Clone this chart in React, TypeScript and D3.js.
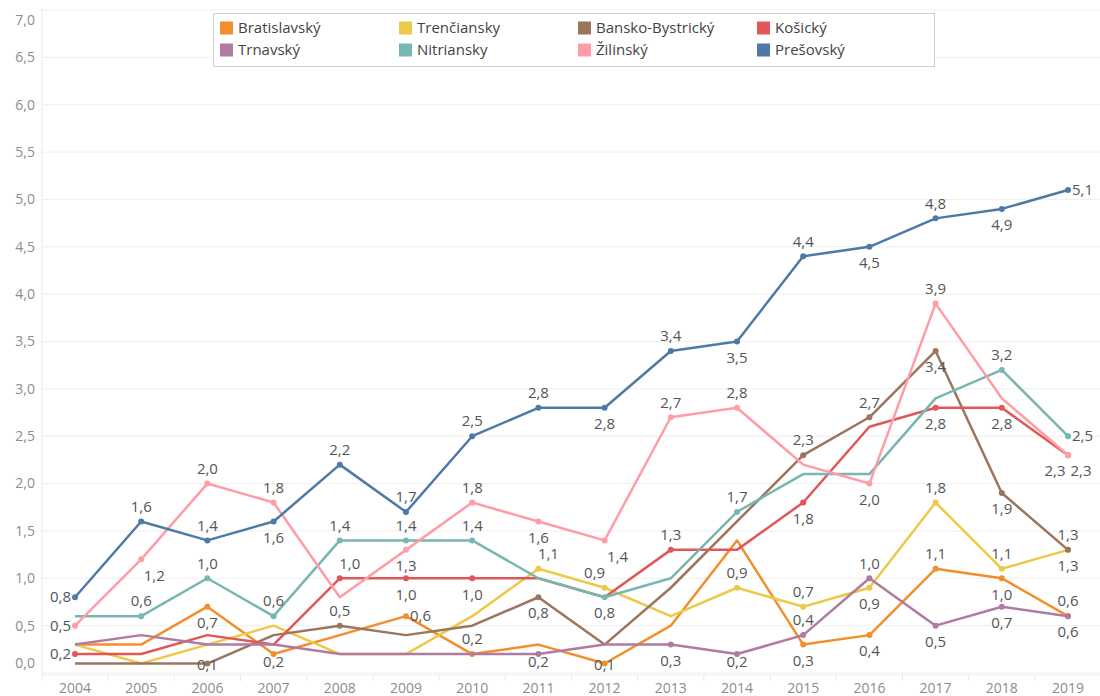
import React, { useEffect, useRef } from 'react'
import * as d3 from 'd3'

const years = [2004, 2005, 2006, 2007, 2008, 2009, 2010, 2011, 2012, 2013, 2014, 2015, 2016, 2017, 2018, 2019]

const regions = ['Bratislavský', 'Trenčiansky', 'Bansko-Bystrický', 'Košický', 'Trnavský', 'Nitriansky', 'Žilinský', 'Prešovský']
const colors = ['#F28E2B', '#EDC948', '#9C755F', '#E15759', '#B07AA1', '#76B7B2', '#FF9DA7', '#4E79A7']

const bratislavsky = [0.3, 0.3, 0.7, 0.2, 0.4, 0.6, 0.2, 0.3, 0.1, 0.5, 1.4, 0.3, 0.4, 1.1, 1.0, 0.6]
const trenciansky = [0.3, 0.1, 0.3, 0.5, 0.2, 0.2, 0.6, 1.1, 0.9, 0.6, 0.9, 0.7, 0.9, 1.8, 1.1, 1.3]
const banskoBystricky = [0.1, 0.1, 0.1, 0.4, 0.5, 0.4, 0.5, 0.8, 0.3, 0.9, 1.6, 2.3, 2.7, 3.4, 1.9, 1.3]
const kosicky = [0.2, 0.2, 0.4, 0.3, 1.0, 1.0, 1.0, 1.0, 0.8, 1.3, 1.3, 1.8, 2.6, 2.8, 2.8, 2.3]
const trnavsky = [0.3, 0.4, 0.3, 0.3, 0.2, 0.2, 0.2, 0.2, 0.3, 0.3, 0.2, 0.4, 1.0, 0.5, 0.7, 0.6]
const nitriansky = [0.6, 0.6, 1.0, 0.6, 1.4, 1.4, 1.4, 1.0, 0.8, 1.0, 1.7, 2.1, 2.1, 2.9, 3.2, 2.5]
const zilinsky = [0.5, 1.2, 2.0, 1.8, 0.8, 1.3, 1.8, 1.6, 1.4, 2.7, 2.8, 2.2, 2.0, 3.9, 2.9, 2.3]
const presovsky = [0.8, 1.6, 1.4, 1.6, 2.2, 1.7, 2.5, 2.8, 2.8, 3.4, 3.5, 4.4, 4.5, 4.8, 4.9, 5.1]

const seriesValues = [bratislavsky, trenciansky, banskoBystricky, kosicky, trnavsky, nitriansky, zilinsky, presovsky]

// which points carry a label, one char per year:
// a above, b below, l left, r right, c centered, u above-left, v above-right,
// x below-left, y below-right, . none
const labelSpots = [
  '..bb.ra.c..bbaba',
  '.......vu.aabaaa',
  '..c.a..b...aabbb',
  'l...vbb..a.b.bby',
  '.......b.bbaabbb',
  '.aaaaaa.b.a...ar',
  'lyaa.babyaa.ba.x',
  'laabaaaababababr',
]

const yTicks = [0, 0.5, 1, 1.5, 2, 2.5, 3, 3.5, 4, 4.5, 5, 5.5, 6, 6.5, 7]

const W = 1100
const H = 696
const FONT = '"Open Sans", "Noto Sans", sans-serif'
const fmt = (v: number) => v.toFixed(1).replace('.', ',')

export default function App() {
  const svgRef = useRef<SVGSVGElement>(null)

  useEffect(() => {
    if (!svgRef.current) return
    const svg = d3.select(svgRef.current)
    svg.selectAll('*').remove()

    const plotLeft = 42
    const plotBottom = 673

    const x = d3.scalePoint<number>().domain(years).range([75, 1068])
    const step = x.step()
    const y = d3.scaleLinear().domain([0, 7]).range([plotBottom, 10])

    svg.append('rect').attr('width', W).attr('height', H).attr('fill', '#fff')

    // grid
    svg.append('g').selectAll('line')
      .data(yTicks)
      .enter().append('line')
      .attr('x1', plotLeft).attr('x2', W)
      .attr('y1', d => y(d)).attr('y2', d => y(d))
      .attr('stroke', '#efefef').attr('stroke-width', 1)

    svg.append('line')
      .attr('x1', plotLeft).attr('x2', plotLeft)
      .attr('y1', 8).attr('y2', plotBottom + 2)
      .attr('stroke', '#e8e8e8')

    svg.append('line')
      .attr('x1', plotLeft).attr('x2', W)
      .attr('y1', plotBottom + 2).attr('y2', plotBottom + 2)
      .attr('stroke', '#eeeeee')

    // year separators
    svg.append('g').selectAll('line')
      .data(years)
      .enter().append('line')
      .attr('x1', d => (x(d) as number) - step / 2)
      .attr('x2', d => (x(d) as number) - step / 2)
      .attr('y1', plotBottom + 2).attr('y2', plotBottom + 8)
      .attr('stroke', '#e6e6e6')

    // y tick labels
    svg.append('g').selectAll('text')
      .data(yTicks)
      .enter().append('text')
      .attr('x', 35)
      .attr('y', d => Math.min(Math.max(y(d), 20), 663))
      .attr('dy', '0.35em')
      .attr('text-anchor', 'end')
      .attr('fill', '#8c8c8c')
      .style('font-family', FONT)
      .style('font-size', '14px')
      .text(d => fmt(d))

    // x tick labels
    svg.append('g').selectAll('text')
      .data(years)
      .enter().append('text')
      .attr('x', d => x(d) as number)
      .attr('y', 688)
      .attr('dy', '0.35em')
      .attr('text-anchor', 'middle')
      .attr('fill', '#8c8c8c')
      .style('font-family', FONT)
      .style('font-size', '14px')
      .text(d => String(d))

    const line = d3.line<number>()
      .x((d, i) => x(years[i]) as number)
      .y(d => y(d))

    seriesValues.forEach((vals, s) => {
      svg.append('path')
        .datum(vals)
        .attr('d', line)
        .attr('fill', 'none')
        .attr('stroke', colors[s])
        .attr('stroke-width', 2.5)
        .attr('stroke-linejoin', 'round')

      const marked = vals.map((v, i) => ({ v, i, pos: labelSpots[s][i] })).filter(d => d.pos !== '.')
      svg.append('g').selectAll('circle')
        .data(marked)
        .enter().append('circle')
        .attr('cx', d => x(years[d.i]) as number)
        .attr('cy', d => y(d.v))
        .attr('r', 3)
        .attr('fill', colors[s])
    })

    // data labels on top, kept inside the plot area
    seriesValues.forEach((vals, s) => {
      const marked = vals.map((v, i) => ({ v, i, pos: labelSpots[s][i] })).filter(d => d.pos !== '.')
      svg.append('g').selectAll('text')
        .data(marked)
        .enter().append('text')
        .attr('x', d => {
          const px = x(years[d.i]) as number
          if (d.pos === 'l') return px - 4
          if (d.pos === 'r') return px + 4
          if (d.pos === 'x') return px - 13
          if (d.pos === 'y') return px + 13
          if (d.pos === 'u') return px - 10
          if (d.pos === 'v') return px + 10
          return px
        })
        .attr('y', d => {
          const py = y(d.v)
          if (d.pos === 'a' || d.pos === 'u' || d.pos === 'v') return py - 15
          if (d.pos === 'b' || d.pos === 'x' || d.pos === 'y') return Math.min(py + 16, 662)
          if (d.pos === 'c') return py + 1
          return py
        })
        .attr('dy', '0.35em')
        .attr('text-anchor', d => d.pos === 'l' ? 'end' : d.pos === 'r' ? 'start' : 'middle')
        .attr('fill', '#555')
        .style('font-family', FONT)
        .style('font-size', '15px')
        .text(d => fmt(d.v))
    })

    // legend
    const lg = svg.append('g')
    lg.append('rect')
      .attr('x', 213.5).attr('y', 13.5)
      .attr('width', 721).attr('height', 53)
      .attr('fill', '#fff')
      .attr('stroke', '#cfcfcf')
    const items = lg.selectAll('g.item')
      .data(regions)
      .enter().append('g')
      .attr('class', 'item')
      .attr('transform', (d, i) => `translate(${220 + (i % 4) * 179},${i < 4 ? 28 : 50})`)
    items.append('rect')
      .attr('x', 0).attr('y', -6.5)
      .attr('width', 13).attr('height', 13)
      .attr('fill', (d, i) => colors[i])
    items.append('text')
      .attr('x', 18).attr('y', 0)
      .attr('dy', '0.35em')
      .attr('fill', '#444')
      .style('font-family', FONT)
      .style('font-size', '15px')
      .text(d => d)
  }, [])

  return (
    <svg
      ref={svgRef}
      width={W}
      height={H}
      style={{ position: 'absolute', left: 0, top: 0, display: 'block' }}
    />
  )
}
